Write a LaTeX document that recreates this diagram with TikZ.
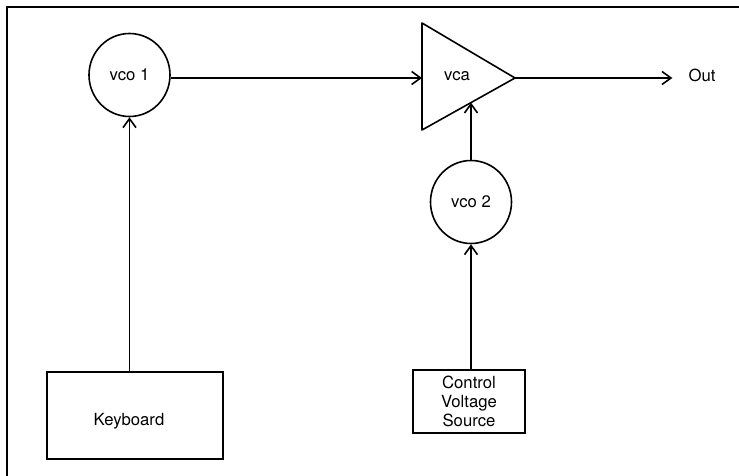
\documentclass[tikz,border=0pt]{standalone}
\usepackage{fontspec}
\setmainfont{TeX Gyre Heros}
\usetikzlibrary{arrows.meta,shapes.geometric}
\begin{document}
\begin{tikzpicture}[x=1pt,y=-1pt,
  every node/.style={font=\fontsize{16.7}{19}\selectfont},
  osc/.style={draw,ellipse,line width=1.6pt,minimum width=81pt,minimum height=83pt,inner sep=0pt},
  boxnode/.style={draw,rectangle,line width=1.6pt,inner sep=0pt},
  txt/.style={inner sep=0pt,align=center},
  arr/.style={line width=1.6pt,-{Straight Barb[length=9pt,width=13pt]}},
  plain/.style={line width=1.6pt}]
\useasboundingbox (0,0) rectangle (739,476);
\clip (0,0) rectangle (739,476);
% frame
\draw[line width=2.6pt] (7,480) -- (7,7) -- (745,7);
% oscillators
\node[osc] (vco1) at (129.5,75) {vco 1};
\node[osc] (vco2) at (471,202) {vco 2};
% amplifier triangle
\coordinate (vcaT) at (422,23);
\coordinate (vcaBL) at (422,130);
\coordinate (vcaA) at (515,78);
\coordinate (vcaL) at (422,78);
\coordinate (vcaB) at (471,102.6);
\draw[plain,line join=round] (vcaT) -- (vcaA) -- (vcaBL) -- cycle;
\node[txt] (vca) at (457,76) {vca};
% boxes
\node[boxnode,minimum width=176pt,minimum height=87pt] (kb) at (135,415.5) {};
\node[txt] (kbt) at (129,421) {Keyboard};
\node[boxnode,minimum width=112pt,minimum height=63pt,align=center] (cv) at (469,401.5) {Control\\Voltage\\Source};
% output label
\node[txt] (out) at (702,75) {Out};
% connectors
\draw[arr] (vco1.east |- vcaL) -- (vcaL);
\draw[arr] (vcaA) -- ([xshift=-16pt]out.west |- vcaA);
\draw[arr] (vco2.north) -- (vcaB);
\draw[arr] (vco2.south |- cv.north) -- (vco2.south);
\draw[arr] (vco1.south |- kb.north) -- (vco1.south);
\end{tikzpicture}
\end{document}
